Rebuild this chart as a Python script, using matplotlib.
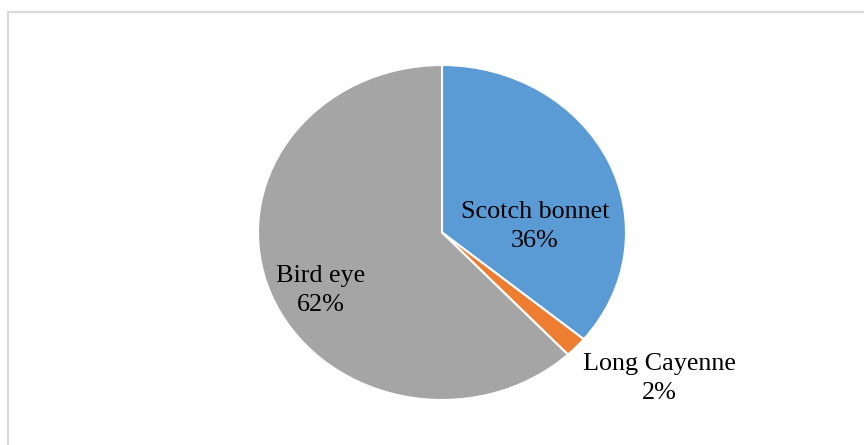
import matplotlib
matplotlib.use('Agg')
from matplotlib import pyplot as plt
from matplotlib.patches import Rectangle

varieties = ['Scotch bonnet', 'Long Cayenne', 'Bird eye']
shares = [36, 2, 62]
colors = ['#5B9BD5', '#ED7D31', '#A5A5A5']

# label anchor points in pie units (radius 1)
label_pos = [(0.505, 0.035), (1.182, -0.872), (-0.658, -0.345)]

W, H = 864, 445
fig = plt.figure(figsize=(W / 100, H / 100), dpi=100)

# light frame around the chart area
fig.patches.append(Rectangle((8 / W, -0.05), 1.1, (H - 12) / H + 0.05,
                             transform=fig.transFigure, fill=False,
                             edgecolor='#d9d9d9', linewidth=1.6))

# the pie is slightly wider than tall
left, right, top, bottom = 258, 626, 65, 400
ax = fig.add_axes([left / W, (H - bottom) / H, (right - left) / W, (bottom - top) / H])
ax.pie(shares, colors=colors, startangle=90, counterclock=False, radius=1,
       wedgeprops=dict(edgecolor='white', linewidth=1.5))
ax.set_aspect('auto')
ax.set_xlim(-1, 1)
ax.set_ylim(-1, 1)
ax.axis('off')

for name, v, (x, y) in zip(varieties, shares, label_pos):
    ax.text(x, y, f'{name}\n{v}%', ha='center', va='center', fontsize=18.8,
            family='Liberation Serif', linespacing=1.38, color='black')

plt.savefig('out.png', dpi=100)
